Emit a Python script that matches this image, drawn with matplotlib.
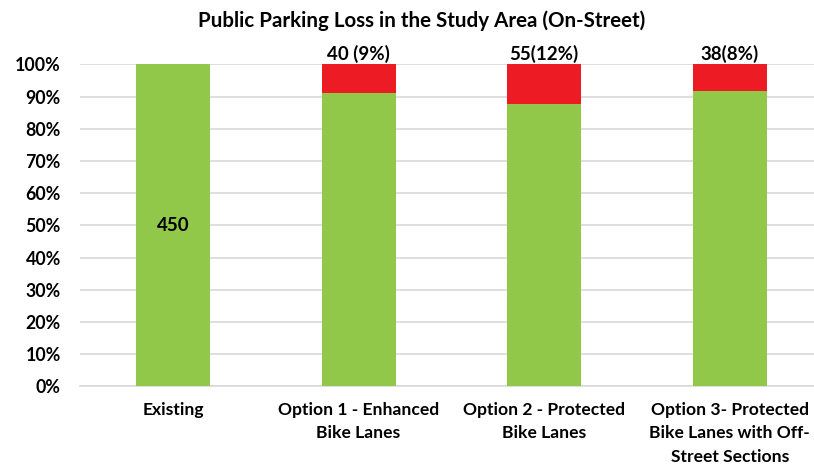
import matplotlib
matplotlib.use("Agg")
import matplotlib.pyplot as plt
from matplotlib.ticker import PercentFormatter

plt.rcParams["font.family"] = ["Lato", "DejaVu Sans"]
plt.rcParams["font.weight"] = "bold"

# Data
categories = [
    "Existing",
    "Option 1 - Enhanced\nBike Lanes",
    "Option 2 - Protected\nBike Lanes",
    "Option 3- Protected\nBike Lanes with Off-\nStreet Sections",
]
total_spaces = 450
spaces_lost = [0, 40, 55, 38]
loss_labels = ["", "40 (9%)", "55(12%)", "38(8%)"]

green = "#92C84A"
red = "#ED1C24"

kept_pct = [(total_spaces - l) / total_spaces * 100 for l in spaces_lost]
lost_pct = [l / total_spaces * 100 for l in spaces_lost]

fig = plt.figure(figsize=(8.14, 4.66), dpi=100)
ax = fig.add_axes([0.0986, 0.171, 0.9014, 0.691])

x = range(len(categories))
ax.bar(x, kept_pct, width=0.40, color=green, zorder=3)
ax.bar(x, lost_pct, width=0.40, bottom=kept_pct, color=red, zorder=3)

# labels
ax.text(0, 50, str(total_spaces), ha="center", va="center", fontsize=13.5, fontweight="bold", zorder=4)
for i, lab in enumerate(loss_labels):
    if lab:
        ax.text(i, 100.3, lab, ha="center", va="bottom", fontsize=13.5, fontweight="bold", zorder=4)

ax.set_ylim(0, 100)
ax.set_xlim(-0.5, 3.454)
ax.set_yticks(range(0, 101, 10))
ax.yaxis.set_major_formatter(PercentFormatter(decimals=0))
ax.set_xticks(list(x))
ax.set_xticklabels(categories, fontsize=12.6, fontweight="bold", linespacing=1.58)
ax.tick_params(axis="y", labelsize=12.8, length=0, pad=14)
ax.tick_params(axis="x", length=0, pad=11)
for lab in ax.get_yticklabels():
    lab.set_fontweight("bold")

ax.grid(axis="y", color="#D9D9D9", linewidth=1.2, zorder=0)
for s in ["top", "right", "left"]:
    ax.spines[s].set_visible(False)
ax.spines["bottom"].set_color("#D9D9D9")
ax.spines["bottom"].set_linewidth(1.2)

fig.text(0.518, 0.955, "Public Parking Loss in the Study Area (On-Street)", ha="center", va="center",
         fontsize=14.8, fontweight="bold")

fig.savefig("out.png", dpi=100)
